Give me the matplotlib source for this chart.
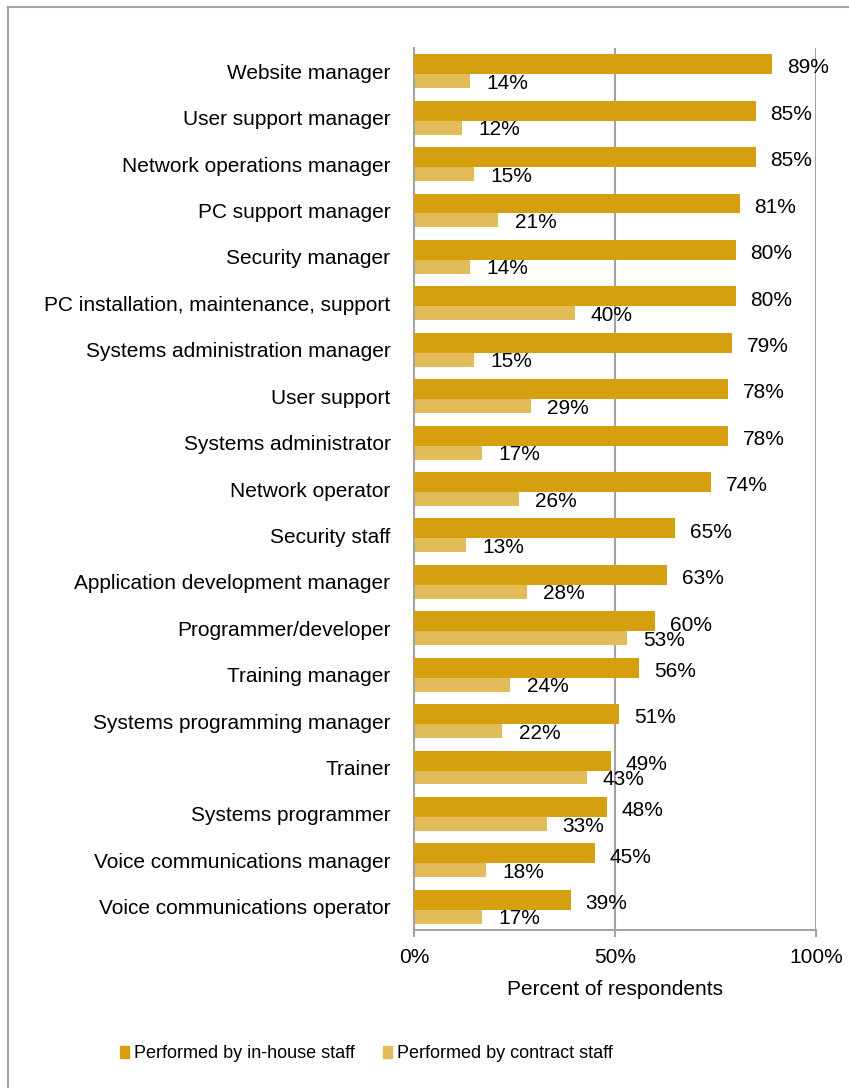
import numpy as np
import matplotlib
matplotlib.use('Agg')
import matplotlib.pyplot as plt
from matplotlib.lines import Line2D
from matplotlib.patches import Patch

plt.rcParams.update({'font.size': 15, 'font.family': ['Liberation Sans', 'DejaVu Sans']})

roles = ['Website manager', 'User support manager', 'Network operations manager',
         'PC support manager', 'Security manager',
         'PC installation, maintenance, support', 'Systems administration manager',
         'User support', 'Systems administrator', 'Network operator', 'Security staff',
         'Application development manager', 'Programmer/developer', 'Training manager',
         'Systems programming manager', 'Trainer', 'Systems programmer',
         'Voice communications manager', 'Voice communications operator']
in_house = [89, 85, 85, 81, 80, 80, 79, 78, 78, 74, 65, 63, 60, 56, 51, 49, 48, 45, 39]
contract = [14, 12, 15, 21, 14, 40, 15, 29, 17, 26, 13, 28, 53, 24, 22, 43, 33, 18, 17]
series_names = ['Performed by in-house staff', 'Performed by contract staff']
xticks = [0, 50, 100]

c_in = '#D69F0F'
c_con = '#E3BC5A'
grid_c = '#A3A3A3'

fig = plt.figure(figsize=(8.49, 10.88), dpi=100)
ax = fig.add_axes([414/849, 1 - 930/1088, (816 - 414)/849, (930 - 48)/1088])

y = np.arange(len(roles))
h = 0.43
off = 0.15
# contract bars sit underneath, in-house bars overlap them slightly
ax.barh(y + off, contract, height=h, color=c_con, zorder=2)
ax.barh(y - off, in_house, height=h, color=c_in, zorder=3)

for i in range(len(roles)):
    ax.text(in_house[i] + 3.7, y[i] - off + 0.08, '%d%%' % in_house[i],
            va='center', ha='left', zorder=4)
    ax.text(contract[i] + 4, y[i] + off + 0.11, '%d%%' % contract[i],
            va='center', ha='left', zorder=4)

ax.set_ylim(len(roles) - 0.5, -0.5)
ax.set_xlim(0, 100)
ax.set_yticks(y)
ax.set_yticklabels(roles)
ax.set_xticks(xticks)
ax.set_xticklabels(['%d%%' % t for t in xticks])
ax.tick_params(axis='y', length=0, pad=17)
ax.tick_params(axis='x', length=5, width=1.5, color=grid_c, pad=8)
ax.set_xlabel('Percent of respondents', labelpad=9)

for t in [50, 100]:
    ax.axvline(t, color=grid_c, lw=1.5, zorder=1)
for s in ['top', 'right']:
    ax.spines[s].set_visible(False)
for s in ['left', 'bottom']:
    ax.spines[s].set_color(grid_c)
    ax.spines[s].set_linewidth(1.5)

handles = [Patch(color=c_in), Patch(color=c_con)]
fig.legend(handles, series_names, loc='center left', bbox_to_anchor=(120/849, 1 - 1054/1088),
           ncol=2, frameon=False, handlelength=0.5, handleheight=0.65,
           handletextpad=0.25, columnspacing=1.6, borderpad=0, borderaxespad=0,
           fontsize=13)

# outer frame (top and left edges)
fig.add_artist(Line2D([8/849, 1], [1 - 7/1088, 1 - 7/1088], color=grid_c, lw=1.5))
fig.add_artist(Line2D([8/849, 8/849], [0, 1 - 7/1088], color=grid_c, lw=1.5))

fig.savefig('out.png', dpi=100)
